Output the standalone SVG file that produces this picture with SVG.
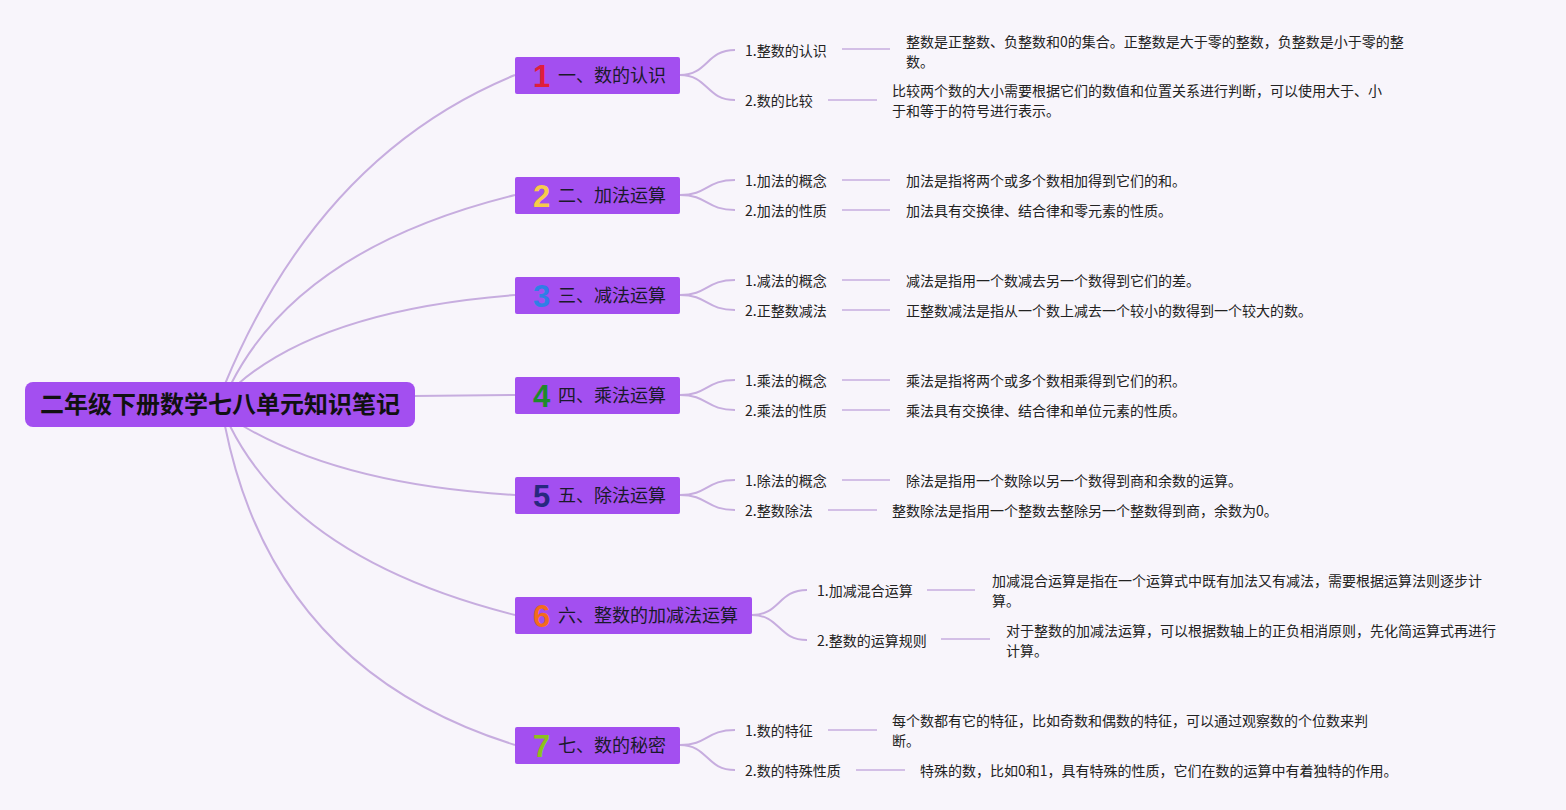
<svg xmlns="http://www.w3.org/2000/svg" width="1566" height="810" viewBox="0 0 1566 810">
<style>
.bg{fill:#f8f5fb}
.conn path{fill:none;stroke:#c7addf;stroke-width:2}
.conn line{stroke:#c7addf;stroke-width:1.5}
.root rect{fill:#a34ff0}
.root text{font-family:"Noto Sans CJK SC","Noto Sans",sans-serif;font-size:24px;font-weight:bold;fill:#111}
.br rect{fill:#a34ff0}
.br .lbl{font-family:"Noto Sans CJK SC","Noto Sans",sans-serif;font-size:18px;fill:#1a1a2a}
.br .num{font-family:"Liberation Sans","Noto Sans",sans-serif;font-size:31px;font-weight:bold}
.sub text{font-family:"Noto Sans CJK SC","Noto Sans",sans-serif;font-size:14px;fill:#222}
</style>
<rect class="bg" width="1566" height="810"/>
<g class="conn">
<path d="M225 384 Q320 155 515 75"/>
<path d="M231 384 Q300 248 515 195"/>
<path d="M238 384 Q323 310 515 295"/>
<path d="M414 396 L515 395"/>
<path d="M243 426 Q343 485 515 495"/>
<path d="M230 426 Q297 560 515 615"/>
<path d="M225 426 Q274 670 515 745"/>
<path d="M680 75 C708 75 706 50 735 50"/><path d="M680 75 C708 75 706 100 735 100"/>
<path d="M680 195 C708 195 706 180 735 180"/><path d="M680 195 C708 195 706 210 735 210"/>
<path d="M680 295 C708 295 706 280 735 280"/><path d="M680 295 C708 295 706 310 735 310"/>
<path d="M680 395 C708 395 706 380 735 380"/><path d="M680 395 C708 395 706 410 735 410"/>
<path d="M680 495 C708 495 706 480 735 480"/><path d="M680 495 C708 495 706 510 735 510"/>
<path d="M752 615 C780 615 778 590 807 590"/><path d="M752 615 C780 615 778 640 807 640"/>
<path d="M680 745 C708 745 706 730 735 730"/><path d="M680 745 C708 745 706 770 735 770"/>
<line x1="842" y1="49" x2="890" y2="49"/>
<line x1="828" y1="100" x2="877" y2="100"/>
<line x1="842" y1="180" x2="890" y2="180"/>
<line x1="842" y1="210" x2="890" y2="210"/>
<line x1="842" y1="280" x2="890" y2="280"/>
<line x1="842" y1="310" x2="890" y2="310"/>
<line x1="842" y1="380" x2="890" y2="380"/>
<line x1="842" y1="410" x2="890" y2="410"/>
<line x1="842" y1="480" x2="890" y2="480"/>
<line x1="828" y1="510" x2="877" y2="510"/>
<line x1="927" y1="590" x2="975" y2="590"/>
<line x1="941" y1="639" x2="990" y2="639"/>
<line x1="828" y1="730" x2="877" y2="730"/>
<line x1="856" y1="770" x2="905" y2="770"/>
</g>
<g id="root" class="root">
<rect x="25" y="382" width="390" height="45" rx="8"/>
<text x="220" y="413" text-anchor="middle">二年级下册数学七八单元知识笔记</text>
</g>
<g id="n1" class="br"><rect x="515" y="57" width="165" height="37" rx="2"/><text class="num" x="533" y="87" fill="#e01e3c">1</text><text class="lbl" x="558" y="82">一、数的认识</text></g>
<g id="n2" class="br"><rect x="515" y="177" width="165" height="37" rx="2"/><text class="num" x="533" y="207" fill="#f6cb4a">2</text><text class="lbl" x="558" y="202">二、加法运算</text></g>
<g id="n3" class="br"><rect x="515" y="277" width="165" height="37" rx="2"/><text class="num" x="533" y="307" fill="#2f7fe6">3</text><text class="lbl" x="558" y="302">三、减法运算</text></g>
<g id="n4" class="br"><rect x="515" y="377" width="165" height="37" rx="2"/><text class="num" x="533" y="407" fill="#1e8a2c">4</text><text class="lbl" x="558" y="402">四、乘法运算</text></g>
<g id="n5" class="br"><rect x="515" y="477" width="165" height="37" rx="2"/><text class="num" x="533" y="507" fill="#27287f">5</text><text class="lbl" x="558" y="502">五、除法运算</text></g>
<g id="n6" class="br"><rect x="515" y="597" width="237" height="37" rx="2"/><text class="num" x="533" y="627" fill="#f36b1c">6</text><text class="lbl" x="558" y="622">六、整数的加减法运算</text></g>
<g id="n7" class="br"><rect x="515" y="727" width="165" height="37" rx="2"/><text class="num" x="533" y="757" fill="#8cc21b">7</text><text class="lbl" x="558" y="752">七、数的秘密</text></g>
<g id="s1" class="sub">
<text x="745" y="56">1.整数的认识</text>
<text x="906" y="47">整数是正整数、负整数和0的集合。正整数是大于零的整数，负整数是小于零的整</text>
<text x="906" y="67">数。</text>
<text x="745" y="106">2.数的比较</text>
<text x="892" y="96">比较两个数的大小需要根据它们的数值和位置关系进行判断，可以使用大于、小</text>
<text x="892" y="116">于和等于的符号进行表示。</text>
</g>
<g id="s2" class="sub">
<text x="745" y="186">1.加法的概念</text>
<text x="906" y="186">加法是指将两个或多个数相加得到它们的和。</text>
<text x="745" y="216">2.加法的性质</text>
<text x="906" y="216">加法具有交换律、结合律和零元素的性质。</text>
</g>
<g id="s3" class="sub">
<text x="745" y="286">1.减法的概念</text>
<text x="906" y="286">减法是指用一个数减去另一个数得到它们的差。</text>
<text x="745" y="316">2.正整数减法</text>
<text x="906" y="316">正整数减法是指从一个数上减去一个较小的数得到一个较大的数。</text>
</g>
<g id="s4" class="sub">
<text x="745" y="386">1.乘法的概念</text>
<text x="906" y="386">乘法是指将两个或多个数相乘得到它们的积。</text>
<text x="745" y="416">2.乘法的性质</text>
<text x="906" y="416">乘法具有交换律、结合律和单位元素的性质。</text>
</g>
<g id="s5" class="sub">
<text x="745" y="486">1.除法的概念</text>
<text x="906" y="486">除法是指用一个数除以另一个数得到商和余数的运算。</text>
<text x="745" y="516">2.整数除法</text>
<text x="892" y="516">整数除法是指用一个整数去整除另一个整数得到商，余数为0。</text>
</g>
<g id="s6" class="sub">
<text x="817" y="596">1.加减混合运算</text>
<text x="992" y="586">加减混合运算是指在一个运算式中既有加法又有减法，需要根据运算法则逐步计</text>
<text x="992" y="606">算。</text>
<text x="817" y="646">2.整数的运算规则</text>
<text x="1006" y="636">对于整数的加减法运算，可以根据数轴上的正负相消原则，先化简运算式再进行</text>
<text x="1006" y="656">计算。</text>
</g>
<g id="s7" class="sub">
<text x="745" y="736">1.数的特征</text>
<text x="892" y="726">每个数都有它的特征，比如奇数和偶数的特征，可以通过观察数的个位数来判</text>
<text x="892" y="746">断。</text>
<text x="745" y="776">2.数的特殊性质</text>
<text x="920" y="776">特殊的数，比如0和1，具有特殊的性质，它们在数的运算中有着独特的作用。</text>
</g>
</svg>
